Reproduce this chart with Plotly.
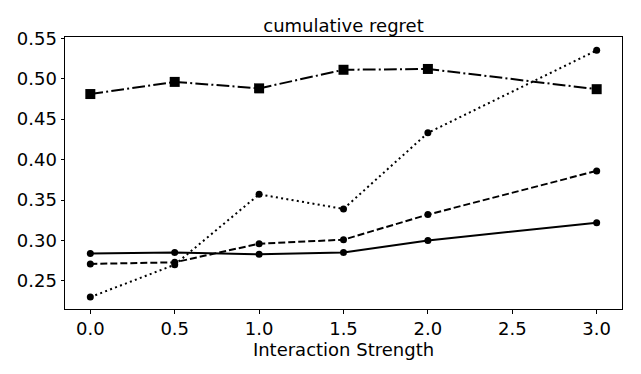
import plotly.graph_objects as go

# ----------------------------
# DATA
# ----------------------------
strength = [0.0, 0.5, 1.0, 1.5, 2.0, 3.0]

solid_vals = [0.284, 0.285, 0.283, 0.285, 0.300, 0.322]
dashed_vals = [0.271, 0.273, 0.296, 0.301, 0.332, 0.386]
dotted_vals = [0.230, 0.270, 0.357, 0.339, 0.433, 0.535]
dashdot_vals = [0.481, 0.496, 0.488, 0.511, 0.512, 0.487]

x_ticks = [0.0, 0.5, 1.0, 1.5, 2.0, 2.5, 3.0]
y_ticks = [0.25, 0.30, 0.35, 0.40, 0.45, 0.50, 0.55]

FONT = "DejaVu Sans"
FS = 18

# ----------------------------
# PLOT
# ----------------------------
fig = go.Figure()

fig.add_trace(go.Scatter(
    x=strength, y=solid_vals, mode="lines+markers",
    line=dict(color="black", width=2),
    marker=dict(symbol="circle", size=7, color="black"),
))

fig.add_trace(go.Scatter(
    x=strength, y=dashed_vals, mode="lines+markers",
    line=dict(color="black", width=2, dash="7px,3px"),
    marker=dict(symbol="circle", size=7, color="black"),
))

fig.add_trace(go.Scatter(
    x=strength, y=dotted_vals, mode="lines+markers",
    line=dict(color="black", width=2, dash="2px,3.3px"),
    marker=dict(symbol="circle", size=7, color="black"),
))

fig.add_trace(go.Scatter(
    x=strength, y=dashdot_vals, mode="lines+markers",
    line=dict(color="black", width=2, dash="12.8px,3.2px,2px,3.2px"),
    marker=dict(symbol="square", size=10, color="black"),
))

axis_common = dict(
    showline=True, linecolor="black", linewidth=1, mirror=True,
    ticks="outside", ticklen=3.5, tickwidth=1, tickcolor="black",
    showgrid=False, zeroline=False, automargin=False,
    tickfont=dict(family=FONT, size=FS, color="black"),
)

# page body has an 8px margin, so the figure sits 8px right/down
fig.update_layout(
    width=633, height=366,
    margin=dict(l=57, r=19, t=29, b=65),
    paper_bgcolor="white", plot_bgcolor="white",
    showlegend=False,
    title=dict(
        text="cumulative regret",
        font=dict(family=FONT, size=FS, color="black"),
        x=0.5, xref="paper", xanchor="center",
        y=1 - 18 / 366, yref="container", yanchor="middle",
    ),
    xaxis=dict(
        axis_common,
        range=[-0.15, 3.15],
        tickvals=x_ticks,
        ticktext=[f"{v:.1f}" for v in x_ticks],
        title=dict(text="Interaction Strength", standoff=0,
                   font=dict(family=FONT, size=FS, color="black")),
    ),
    yaxis=dict(
        axis_common,
        range=[0.2153, 0.5515],
        tickvals=y_ticks,
        ticktext=[f"{v:.2f}" for v in y_ticks],
    ),
)

fig.write_html("out.html")
